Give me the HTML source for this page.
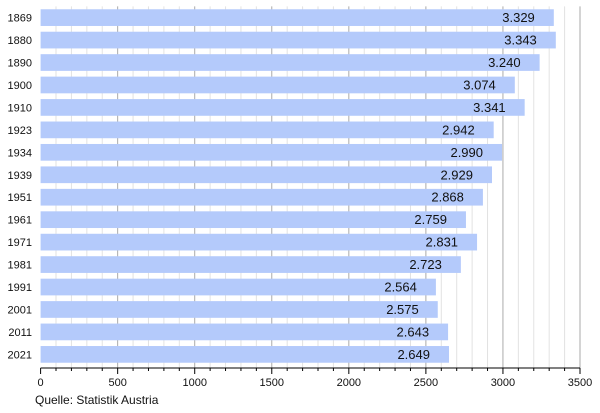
<!DOCTYPE html>
<html><head><meta charset="utf-8"><style>
body{margin:0;background:#fff;width:600px;height:408px;overflow:hidden;font-family:"Liberation Sans",sans-serif}
</style></head><body>
<svg id="chart" width="600" height="408" xmlns="http://www.w3.org/2000/svg" font-family="Liberation Sans, sans-serif"></svg>
<script>
const years=["1869","1880","1890","1900","1910","1923","1934","1939","1951","1961","1971","1981","1991","2001","2011","2021"];
const values=[3330,3343,3238,3077,3141,2940,2994,2929,2870,2760,2832,2727,2565,2577,2644,2650];
const valueLabels=["3.329","3.343","3.240","3.074","3.341","2.942","2.990","2.929","2.868","2.759","2.831","2.723","2.564","2.575","2.643","2.649"];
const xTicks=[0,500,1000,1500,2000,2500,3000,3500];
const svgEl=document.getElementById('chart');
const NS='http://www.w3.org/2000/svg';
const x0=40.6,xMax=3500,x1=580,plotTop=6.4,band=22.45,barH=16.7,axisY=368;
const xs=v=>x0+(v/xMax)*(x1-x0);
const ys=i=>plotTop+i*band+(band-barH)/2;
function mk(tag,attrs,parent){const e=document.createElementNS(NS,tag);for(const k in attrs)e.setAttribute(k,attrs[k]);(parent||svgEl).appendChild(e);return e;}
const grid=mk('g',{});


for(let v=100;v<=xMax;v+=100){
  const major=v%500===0;
  const l=mk('line',{x1:xs(v),x2:xs(v),y1:plotTop,y2:axisY,stroke:major?'#aaa':'#e2e2e2','stroke-width':1},grid);
  
  
}
const bars=mk('g',{});


years.forEach((y,i)=>{
  const r=mk('rect',{x:x0,y:ys(i),width:xs(values[i])-x0,height:barH,fill:'#b4cafb'},bars);
  
  
  const t=mk('text',{x:xs(values[i])-19,y:ys(i)+barH/2+4.5,'text-anchor':'end','font-size':13,fill:'#111'},bars);
  t.textContent=valueLabels[i];
  
  
  const yl=mk('text',{x:32,y:ys(i)+barH/2+4,'text-anchor':'end','font-size':11,fill:'#111'});
  yl.textContent=y;
  
  
});
const ax=mk('line',{x1:x0,x2:x1,y1:axisY,y2:axisY,stroke:'#000','stroke-width':1});


for(let v=0;v<=xMax;v+=100){
  const major=v%500===0;
  const tk=mk('line',{x1:xs(v),x2:xs(v),y1:axisY,y2:axisY+(major?6:3),stroke:'#000','stroke-width':1});
  
  
}
xTicks.forEach(v=>{
  const t=mk('text',{x:xs(v),y:386,'text-anchor':'middle','font-size':11,fill:'#111'});
  t.textContent=v;
  
  
});
const src=mk('text',{x:35,y:404,'font-size':12,fill:'#111'});
src.textContent='Quelle: Statistik Austria';


</script>
</body></html>
